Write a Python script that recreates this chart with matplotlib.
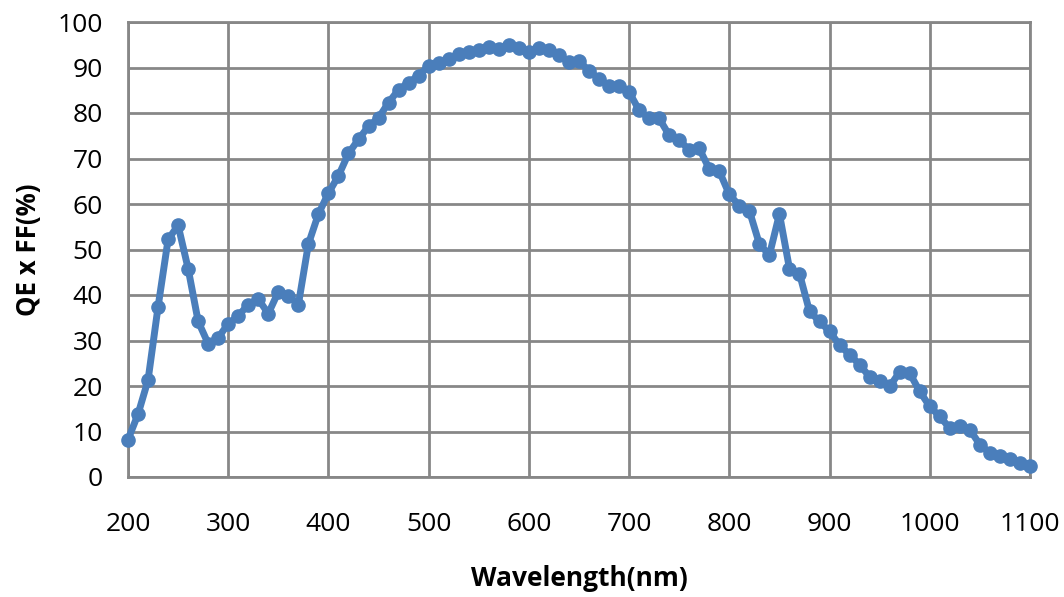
import matplotlib
matplotlib.use("Agg")
import matplotlib.pyplot as plt

wavelength = list(range(200, 1101, 10))
qe_ff = [
    8.2, 13.8, 21.3, 37.4, 52.2, 55.3, 45.8, 34.2, 29.3, 30.6,   # 200-290
    33.7, 35.4, 37.9, 39.1, 35.9, 40.7, 39.8, 37.9, 51.2, 57.8,  # 300-390
    62.4, 66.2, 71.1, 74.2, 77.1, 78.9, 82.3, 85.1, 86.7, 88.2,  # 400-490
    90.4, 90.9, 91.8, 93.0, 93.5, 93.8, 94.5, 94.0, 94.9, 94.3,  # 500-590
    93.3, 94.3, 93.8, 92.8, 91.1, 91.4, 89.3, 87.5, 86.0, 86.0,  # 600-690
    84.6, 80.6, 78.8, 78.8, 75.1, 74.0, 71.9, 72.2, 67.7, 67.2,  # 700-790
    62.1, 59.6, 58.5, 51.2, 48.8, 57.8, 45.8, 44.7, 36.4, 34.2,  # 800-890
    32.0, 29.0, 26.9, 24.7, 22.0, 21.0, 19.9, 23.1, 22.8, 18.8,  # 900-990
    15.5, 13.3, 10.7, 11.1, 10.4, 7.1, 5.3, 4.7, 4.0, 3.1,       # 1000-1090
    2.5,                                                         # 1100
]
x_ticks = list(range(200, 1101, 100))
y_ticks = list(range(0, 101, 10))

plt.rcParams['font.family'] = ['Open Sans', 'DejaVu Sans']

fig = plt.figure(figsize=(10.64, 5.97), dpi=100)
ax = fig.add_axes([128/1064, 1-477/597, (1030-128)/1064, (477-22)/597])

ax.plot(wavelength, qe_ff, color='#4A7EBB', linewidth=5, marker='o',
        markersize=9.5, markerfacecolor='#4A7EBB', markeredgecolor='#4A7EBB',
        zorder=3, clip_on=False)

ax.set_xlim(200, 1100)
ax.set_ylim(0, 100)
ax.set_xticks(x_ticks)
ax.set_yticks(y_ticks)
ax.tick_params(axis='both', length=0, labelsize=19, colors='#000000')
ax.tick_params(axis='x', pad=25)
ax.tick_params(axis='y', pad=18)
ax.grid(True, color='#878787', linewidth=2)
ax.set_axisbelow(True)
for s in ax.spines.values():
    s.set_color('#878787')
    s.set_linewidth(2)

ax.set_xlabel('Wavelength(nm)', fontsize=19, fontweight='bold', labelpad=20)
ax.set_ylabel('QE x FF(%)', fontsize=18.5, fontweight='bold', labelpad=11.5)

fig.savefig('out.png', dpi=100)
